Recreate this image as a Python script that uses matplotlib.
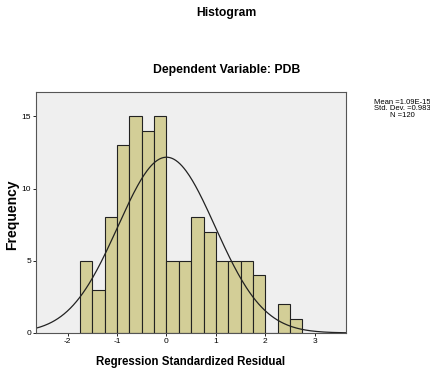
import numpy as np
import matplotlib.pyplot as plt

plt.rcParams['font.family'] = ['Liberation Sans', 'DejaVu Sans']
plt.rcParams['axes.unicode_minus'] = False

# histogram bins (left edges) and counts
bin_lefts = [-1.75, -1.5, -1.25, -1.0, -0.75, -0.5, -0.25, 0.0, 0.25, 0.5,
             0.75, 1.0, 1.25, 1.5, 1.75, 2.0, 2.25, 2.5]
counts = [5, 3, 8, 13, 15, 14, 15, 5, 5, 8, 7, 5, 5, 5, 4, 0, 2, 1]
bin_width = 0.25

# summary stats shown in the legend
mean = 1.09e-15
std = 0.983
n = 120

xticks = [-2, -1, 0, 1, 2, 3]
yticks = [0, 5, 10, 15]

fig = plt.figure(figsize=(4.3, 3.72), dpi=100)
ax = fig.add_axes([0.084, 0.105, 0.72, 0.648])
ax.set_facecolor('#efefef')

ax.bar(bin_lefts, counts, width=bin_width, align='edge',
       color='#d3ce97', edgecolor='#222222', linewidth=0.8)

# normal curve scaled to counts
xs = np.linspace(-2.64, 3.63, 300)
ys = n * bin_width / (std * np.sqrt(2 * np.pi)) * np.exp(-0.5 * ((xs - mean) / std) ** 2)
ax.plot(xs, ys, color='#222222', linewidth=0.9)

ax.set_xlim(-2.64, 3.63)
ax.set_ylim(0, 16.7)
ax.set_xticks(xticks)
ax.set_yticks(yticks)
ax.tick_params(labelsize=6, length=2, width=0.6, pad=1.5)
for s in ax.spines.values():
    s.set_color('#555555')
    s.set_linewidth(0.8)

ax.set_xlabel('Regression Standardized Residual', fontsize=8.3, fontweight='bold', labelpad=8)
fig.text(0.028, 0.422, 'Frequency', rotation=90, ha='center', va='center',
         fontsize=10, fontweight='bold')

fig.text(0.527, 0.812, 'Dependent Variable: PDB', ha='center', va='center',
         fontsize=8.8, fontweight='bold')
fig.text(0.527, 0.965, 'Histogram', ha='center', va='center', fontsize=8.7, fontweight='bold')
fig.text(0.935, 0.735, 'Mean =1.09E-15\nStd. Dev. =0.983\nN =120', ha='center', va='top',
         fontsize=5.5, linespacing=0.95)

fig.savefig('out.png', dpi=100)
